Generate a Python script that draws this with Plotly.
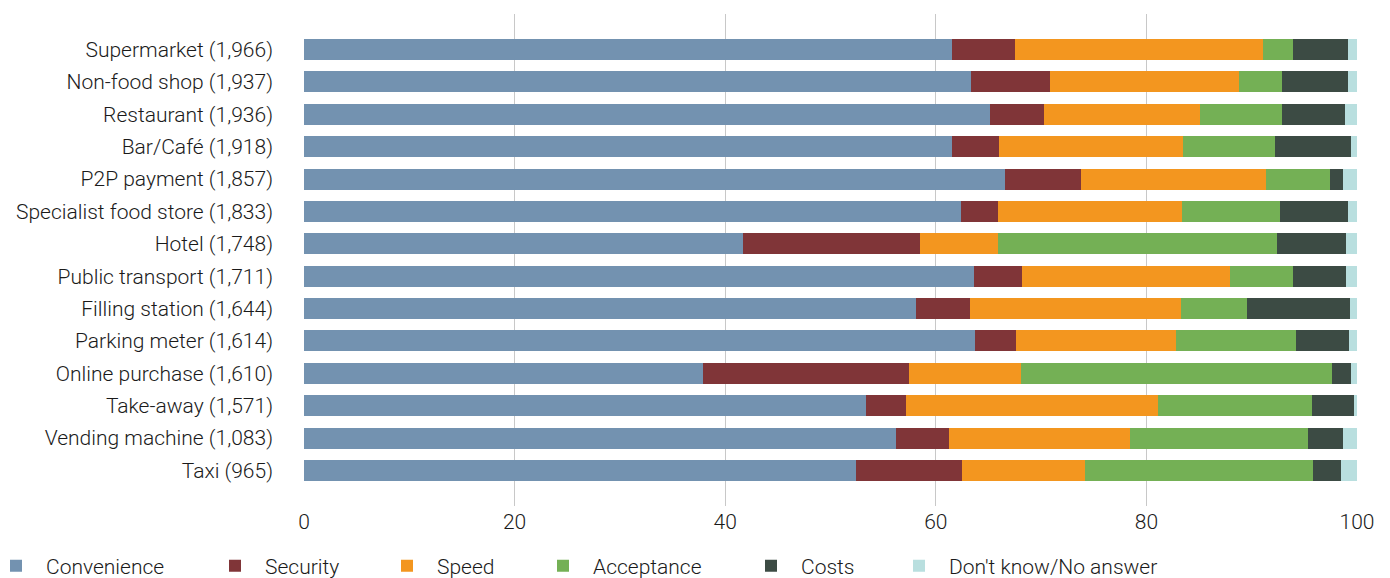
import plotly.graph_objects as go

categories = [
    "Supermarket (1,966)", "Non-food shop (1,937)", "Restaurant (1,936)",
    "Bar/Café (1,918)", "P2P payment (1,857)", "Specialist food store (1,833)",
    "Hotel (1,748)", "Public transport (1,711)", "Filling station (1,644)",
    "Parking meter (1,614)", "Online purchase (1,610)", "Take-away (1,571)",
    "Vending machine (1,083)", "Taxi (965)",
]

convenience = [61.5, 63.3, 65.1, 61.5, 66.6, 62.4, 41.7, 63.6, 58.1, 63.7, 37.9, 53.4, 56.2, 52.4]
security    = [6.0, 7.5, 5.2, 4.5, 7.2, 3.5, 16.8, 4.6, 5.1, 3.9, 19.6, 3.8, 5.1, 10.1]
speed       = [23.6, 18.0, 14.8, 17.5, 17.6, 17.5, 7.4, 19.7, 20.1, 15.2, 10.6, 23.9, 17.1, 11.7]
acceptance  = [2.8, 4.1, 7.8, 8.7, 6.0, 9.3, 26.5, 6.0, 6.3, 11.4, 29.5, 14.6, 16.9, 21.6]
costs       = [5.2, 6.2, 6.0, 7.2, 1.3, 6.4, 6.6, 5.1, 9.7, 5.0, 1.8, 4.0, 3.4, 2.7]
dont_know   = [0.9, 0.9, 1.1, 0.6, 1.3, 0.9, 1.0, 1.0, 0.7, 0.8, 0.6, 0.3, 1.3, 1.5]

series_names = ["Convenience", "Security", "Speed", "Acceptance", "Costs", "Don't know/No answer"]
series_values = [convenience, security, speed, acceptance, costs, dont_know]
colors = ["#7392b0", "#803538", "#f3961f", "#74b055", "#3c4b44", "#b9dfdf"]

x_ticks = [0, 20, 40, 60, 80, 100]

# legend text left positions (px) in the visible window
legend_text_x = [46, 265, 437, 593, 801, 949]

FAMILY = "Roboto, 'Liberation Sans', sans-serif"
TXT = "#1a1a1a"
# the page body adds an 8px offset, so the figure is sized to fill the rest of the window
OFF = 8
W, H = 1390 - OFF, 578 - OFF
ML, MR, MT, MB = 304 - OFF, 33, 14 - OFF, 72
PW = W - ML - MR
PH = H - MT - MB
TEXT_OFFSET = 60  # distance from legend origin to its text start

fig = go.Figure()
legend_layout = {}
for i, (name, vals, col) in enumerate(zip(series_names, series_values, colors)):
    lname = "legend" if i == 0 else f"legend{i + 1}"
    fig.add_trace(go.Bar(
        y=categories, x=vals, name=name, orientation="h",
        marker=dict(color=col, line=dict(width=0)),
        width=0.648, legend=lname,
    ))
    legend_layout[lname] = dict(
        orientation="h", xref="paper", yref="paper",
        x=(legend_text_x[i] - OFF - TEXT_OFFSET - ML) / PW, xanchor="left",
        y=-((566 - OFF) - (MT + PH)) / PH, yanchor="middle",
        font=dict(family=FAMILY, size=21, color=TXT, weight=300),
        itemwidth=50, bgcolor="rgba(0,0,0,0)", borderwidth=0,
        itemclick=False, itemdoubleclick=False,
    )

n = len(categories)
fig.update_layout(
    barmode="stack",
    width=W, height=H,
    margin=dict(l=ML, r=MR, t=MT, b=MB, pad=0, autoexpand=False),
    plot_bgcolor="white", paper_bgcolor="white",
    font=dict(family=FAMILY, size=21, color=TXT, weight=300),
    showlegend=True,
    xaxis=dict(
        range=[0, 100], tickvals=x_ticks, ticktext=[str(t) for t in x_ticks],
        showgrid=True, gridcolor="#c8c8c8", gridwidth=1.2, zeroline=False,
        showline=False, ticks="", tickfont=dict(size=21), ticklabelstandoff=1,
        automargin=False,
    ),
    yaxis=dict(
        type="category", categoryorder="array", categoryarray=categories,
        range=[n - 1 + 1.1, -1.1], showgrid=False, zeroline=False, showline=False,
        ticks="", tickfont=dict(size=21), ticklabelstandoff=30, automargin=False,
    ),
    **legend_layout,
)

fig.write_html("out.html")
